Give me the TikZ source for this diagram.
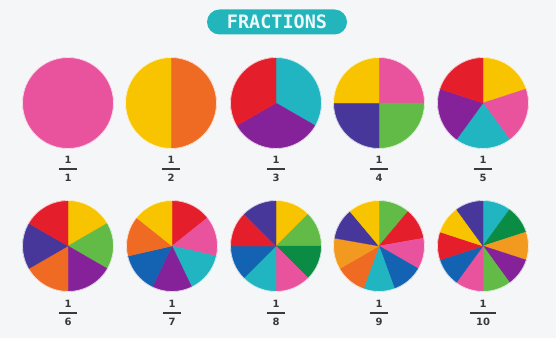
\documentclass[tikz,border=0pt]{standalone}
\usepackage{fontspec}
\setmainfont{DejaVu Sans}
\newfontfamily\titlefont{DejaVu Sans Mono}
\definecolor{bg}{HTML}{F5F6F8}
\definecolor{fpink}{HTML}{E9529C}
\definecolor{fyellow}{HTML}{F8C400}
\definecolor{forange}{HTML}{EF6A23}
\definecolor{fred}{HTML}{E41E2B}
\definecolor{fteal}{HTML}{20B5C0}
\definecolor{fpurple}{HTML}{85229A}
\definecolor{findigo}{HTML}{47379A}
\definecolor{fgreen}{HTML}{62BB47}
\definecolor{fdkgreen}{HTML}{0A8C44}
\definecolor{fblue}{HTML}{1463B3}
\definecolor{fltorange}{HTML}{F29A20}
\definecolor{ftitle}{HTML}{22B5BB}
\definecolor{fdark}{HTML}{3A3A3A}
\setlength{\arrayrulewidth}{1.4pt}
\renewcommand{\arraystretch}{1.45}
\newcommand{\fr}[2]{\begin{tabular}{@{\hspace{6pt}}c@{\hspace{6pt}}}#1\\\hline #2\end{tabular}}
\def\pieR{45.5}
\newcommand{\fracpie}[6]{%
  \coordinate (#1) at (#2,#3);
  \foreach \col [count=\i] in {#6} {
    \pgfmathsetmacro{\aA}{#5-(\i-1)*360/#4}
    \pgfmathsetmacro{\aB}{#5-\i*360/#4}
    \filldraw[fill=\col, draw=\col, line width=0.3pt] (#1) -- ++(\aA:\pieR) arc[start angle=\aA, end angle=\aB, radius=\pieR] -- cycle;
  }
  \draw[pieedge] (#1) circle[radius=\pieR];
}
\tikzset{
  pieedge/.style={draw=white, line width=0.8pt, opacity=0.7},
  titlepill/.style={fill=ftitle, rounded corners=12.5pt, minimum width=140pt, minimum height=25pt, inner sep=0pt, text=white!92!ftitle, font=\titlefont\bfseries\fontsize{18.5}{20}\selectfont},
  fraclabel/.style={inner sep=0pt, text=fdark, font=\bfseries\fontsize{10}{12}\selectfont}
}
\begin{document}
\begin{tikzpicture}[x=1pt,y=1pt]
\fill[bg] (0,0) rectangle (556,338);
\useasboundingbox (0,0) rectangle (556,338);
\node[titlepill] (title) at (277,316) {FRACTIONS};
% row 1
\fracpie{p1}{68}{235}{1}{90}{fpink}
\fracpie{p2}{171}{235}{2}{90}{forange,fyellow}
\fracpie{p3}{276}{235}{3}{90}{fteal,fpurple,fred}
\fracpie{p4}{379}{235}{4}{90}{fpink,fgreen,findigo,fyellow}
\fracpie{p5}{483}{235}{5}{90}{fyellow,fpink,fteal,fpurple,fred}
% row 2
\fracpie{p6}{68}{92}{6}{90}{fyellow,fgreen,fpurple,forange,findigo,fred}
\fracpie{p7}{172}{92}{7}{90}{fred,fpink,fteal,fpurple,fblue,forange,fyellow}
\fracpie{p8}{276}{92}{8}{90}{fyellow,fgreen,fdkgreen,fpink,fteal,fblue,fred,findigo}
\fracpie{p9}{379}{92}{9}{90}{fgreen,fred,fpink,fblue,fteal,forange,fltorange,findigo,fyellow}
\fracpie{p10}{483}{92}{10}{90}{fteal,fdkgreen,fltorange,fpurple,fgreen,fpink,fblue,fred,fyellow,findigo}
% labels
\node[fraclabel] (f1) at (68,169) {\fr{1}{1}};
\node[fraclabel] (f2) at (171,169) {\fr{1}{2}};
\node[fraclabel] (f3) at (276,169) {\fr{1}{3}};
\node[fraclabel] (f4) at (379,169) {\fr{1}{4}};
\node[fraclabel] (f5) at (483,169) {\fr{1}{5}};
\node[fraclabel] (f6) at (68,25) {\fr{1}{6}};
\node[fraclabel] (f7) at (172,25) {\fr{1}{7}};
\node[fraclabel] (f8) at (276,25) {\fr{1}{8}};
\node[fraclabel] (f9) at (379,25) {\fr{1}{9}};
\node[fraclabel] (f10) at (483,25) {\fr{1}{10}};
\end{tikzpicture}
\end{document}
